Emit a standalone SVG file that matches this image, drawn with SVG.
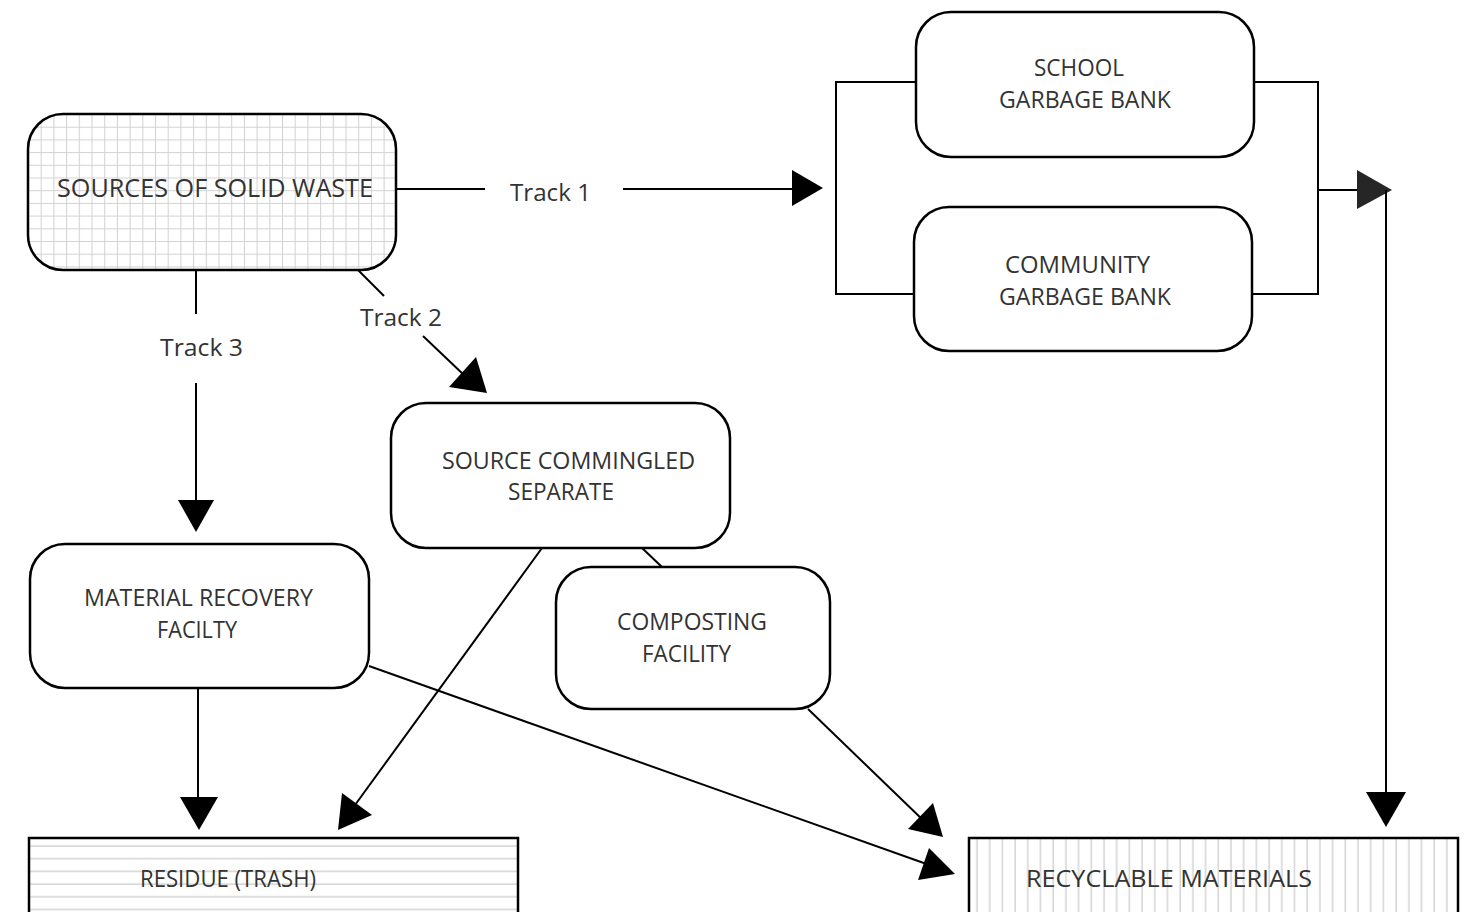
<svg xmlns="http://www.w3.org/2000/svg" width="1476" height="912" viewBox="0 0 1476 912">
<style>
.box{fill:#fff;stroke:#000;stroke-width:2.5}
.ln{fill:none;stroke:#000;stroke-width:2}
.hd{fill:#000;stroke:none}
.hd2{fill:#262626;stroke:none}
.t{font-family:"Open Sans","Liberation Sans",sans-serif;fill:#333;font-size:23px}
.tr{font-family:"Open Sans","Liberation Sans",sans-serif;fill:#333;font-size:24px}
</style>
<defs>
<pattern id="grid" patternUnits="userSpaceOnUse" width="12.7" height="12.7" x="28" y="114">
<rect width="12.7" height="12.7" fill="#fff"/>
<path d="M0.5,0 V12.7 M0,0.5 H12.7" stroke="#d2d2d2" stroke-width="1"/>
</pattern>
<pattern id="hlines" patternUnits="userSpaceOnUse" width="20" height="12.7" x="0" y="840">
<rect width="20" height="12.7" fill="#fff"/>
<path d="M0,6 H20" stroke="#c9c9c9" stroke-width="1.2"/>
</pattern>
<pattern id="vlines" patternUnits="userSpaceOnUse" width="12.7" height="20" x="971" y="0">
<rect width="12.7" height="20" fill="#fff"/>
<path d="M6,0 V20" stroke="#cacaca" stroke-width="1.2"/>
</pattern>
</defs>
<rect width="1476" height="912" fill="#fff"/>

<g id="connectors">
<path class="ln" d="M396,189 H485 M623,189 H795"/>
<polygon class="hd" points="792,170 823,188 792,206"/>
<path class="ln" d="M916,82 H836 V294 H914"/>
<path class="ln" d="M1254,82 H1318 V294 H1252"/>
<path class="ln" d="M1318,190 H1360" stroke="#262626"/>
<polygon class="hd2" points="1357,170 1392,190 1357,209"/>
<path class="ln" d="M1386,190 V795"/>
<polygon class="hd" points="1366,792 1406,792 1386,827"/>
<path class="ln" d="M196,270 V314 M196,383 V502"/>
<polygon class="hd" points="178,500 214,500 196,532"/>
<path class="ln" d="M358,270 L384,296 M423,336 L465,376"/>
<polygon class="hd" points="449,387 476,357 487,393"/>
<path class="ln" d="M642,548 L662,567"/>
<path class="ln" d="M542,548 L355,805"/>
<polygon class="hd" points="342,793 372,815 338,830"/>
<path class="ln" d="M198,688 V799"/>
<polygon class="hd" points="180,797 218,797 199,830"/>
<path class="ln" d="M369,666 L935,867"/>
<polygon class="hd" points="929,848 955,874 918,880"/>
<path class="ln" d="M808,709 L925,822"/>
<polygon class="hd" points="908,829 933,803 943,837"/>
<text class="tr" x="510" y="201" textLength="81" lengthAdjust="spacingAndGlyphs">Track 1</text>
<text class="tr" x="360" y="326" textLength="82" lengthAdjust="spacingAndGlyphs">Track 2</text>
<text class="tr" x="160" y="356" textLength="83" lengthAdjust="spacingAndGlyphs">Track 3</text>
</g>

<g id="sources">
<rect class="box" x="28" y="114" width="368" height="156" rx="35" style="fill:url(#grid)"/>
<text class="t" x="57" y="197" style="font-size:25px" textLength="316" lengthAdjust="spacingAndGlyphs">SOURCES OF SOLID WASTE</text>
</g>

<g id="school">
<rect class="box" x="916" y="12" width="338" height="145" rx="35"/>
<text class="t" x="1034" y="76" textLength="90" lengthAdjust="spacingAndGlyphs">SCHOOL</text>
<text class="t" x="999" y="108" textLength="172" lengthAdjust="spacingAndGlyphs">GARBAGE BANK</text>
</g>

<g id="community">
<rect class="box" x="914" y="207" width="338" height="144" rx="35"/>
<text class="t" x="1005" y="273" textLength="145" lengthAdjust="spacingAndGlyphs">COMMUNITY</text>
<text class="t" x="999" y="305" textLength="172" lengthAdjust="spacingAndGlyphs">GARBAGE BANK</text>
</g>

<g id="separate">
<rect class="box" x="391" y="403" width="339" height="145" rx="35"/>
<text class="t" x="442" y="469" textLength="253" lengthAdjust="spacingAndGlyphs">SOURCE COMMINGLED</text>
<text class="t" x="508" y="500" textLength="106" lengthAdjust="spacingAndGlyphs">SEPARATE</text>
</g>

<g id="mrf">
<rect class="box" x="30" y="544" width="339" height="144" rx="35"/>
<text class="t" x="84" y="606" textLength="229" lengthAdjust="spacingAndGlyphs">MATERIAL RECOVERY</text>
<text class="t" x="157" y="638" textLength="80" lengthAdjust="spacingAndGlyphs">FACILTY</text>
</g>

<g id="composting">
<rect class="box" x="556" y="567" width="274" height="142" rx="35"/>
<text class="t" x="617" y="630" textLength="150" lengthAdjust="spacingAndGlyphs">COMPOSTING</text>
<text class="t" x="642" y="662" textLength="89" lengthAdjust="spacingAndGlyphs">FACILITY</text>
</g>

<g id="residue">
<rect class="box" x="29" y="838" width="489" height="90" style="fill:url(#hlines)"/>
<text class="t" x="140" y="887" style="font-size:24px" textLength="176" lengthAdjust="spacingAndGlyphs">RESIDUE (TRASH)</text>
</g>

<g id="recyclable">
<rect class="box" x="969" y="838" width="489" height="90" style="fill:url(#vlines)"/>
<text class="t" x="1026" y="887" style="font-size:24px" textLength="286" lengthAdjust="spacingAndGlyphs">RECYCLABLE MATERIALS</text>
</g>
</svg>
